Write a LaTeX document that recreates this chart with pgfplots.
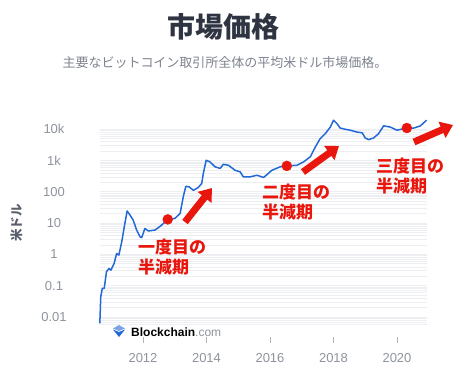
\documentclass[border=0pt]{standalone}
\usepackage{fontspec}
\setmainfont{Liberation Sans}
\newfontfamily\jp{Noto Sans CJK JP}
\usepackage{pgfplots}
\pgfplotsset{compat=1.18}
\usetikzlibrary{arrows.meta}
\definecolor{linecol}{HTML}{2368D7}
\definecolor{redc}{HTML}{E8160C}
\definecolor{titlec}{HTML}{2F3442}
\definecolor{subc}{HTML}{7E838E}
\definecolor{tickc}{HTML}{8E939D}
\definecolor{gridc}{HTML}{ECEEF2}
\definecolor{ylab}{HTML}{5A5F6B}
\begin{document}
\begin{tikzpicture}[x=1pt,y=1pt]
\useasboundingbox (0,0) rectangle (474,-375);
\begin{axis}[
  at={(100pt,-324pt)}, anchor=south west,
  scale only axis, width=327pt, height=199.3pt,
  xmin=2010.646, xmax=2020.945,
  ymode=log, ymin=0.006, ymax=14000,
  axis line style={draw=none},
  ytick={0.01,0.1,1,10,100,1000,10000},
  yticklabels={0.01,0.1,1,10,100,1k,10k},
  minor ytick={0.006,0.007,0.008,0.009,0.02,0.03,0.04,0.05,0.06,0.07,0.08,0.09,0.2,0.3,0.4,0.5,0.6,0.7,0.8,0.9,2,3,4,5,6,7,8,9,20,30,40,50,60,70,80,90,200,300,400,500,600,700,800,900,2000,3000,4000,5000,6000,7000,8000,9000},
  xtick=\empty,
  ymajorgrids, yminorgrids,
  major grid style={draw=gridc, line width=0.8pt},
  minor grid style={draw=gridc, line width=0.8pt},
  ytick style={draw=none},
  minor tick length=0pt,
  tickpos=left,
  tick label style={font=\fontsize{13}{13}\selectfont, text=tickc},
  /pgf/number format/assume math mode=true,
  yticklabel style={anchor=center, xshift=-46pt},
  clip=false,
]
\addplot[color=linecol, line width=1.5pt, line join=round] coordinates {
(2010.64,0.0063) (2010.67,0.0447) (2010.72,0.0832) (2010.78,0.0832)
(2010.85,0.282) (2010.93,0.355) (2010.99,0.316) (2011.09,0.513)
(2011.17,1.07) (2011.24,0.955) (2011.33,2.51) (2011.41,7.59)
(2011.50,24.5) (2011.59,18.2) (2011.69,12.6) (2011.80,6.03)
(2011.91,3.63) (2011.96,3.47) (2012.06,6.76) (2012.17,5.62)
(2012.38,6.03) (2012.59,8.71) (2012.78,13.2) (2013.00,14.1)
(2013.17,20.4) (2013.27,70.8) (2013.35,151) (2013.45,145)
(2013.59,112) (2013.74,138) (2013.85,186) (2013.90,389)
(2013.99,1023) (2014.11,912) (2014.27,631) (2014.43,562)
(2014.53,759) (2014.69,708) (2014.90,490) (2015.06,437)
(2015.16,302) (2015.37,302) (2015.59,339) (2015.80,288)
(2016.06,490) (2016.32,631) (2016.53,676) (2016.85,708)
(2017.06,912) (2017.27,1318) (2017.43,2754) (2017.58,5012)
(2017.74,7244) (2017.90,11749) (2018.00,19498) (2018.11,15136)
(2018.21,10965) (2018.37,10000) (2018.53,9333) (2018.74,8128)
(2018.90,7762) (2019.00,5248) (2019.11,4677) (2019.26,5248)
(2019.42,7244) (2019.58,12882) (2019.79,11749) (2020.00,9333)
(2020.30,10965) (2020.53,10965) (2020.74,12882) (2020.93,19498)
};
\addplot[only marks, mark=*, mark size=5pt, color=redc] coordinates {
(2012.78,13.2) (2016.53,676) (2020.31,10965)
};
\end{axis}
% x ticks axis
\begin{axis}[
  at={(100pt,-343pt)}, anchor=south west,
  scale only axis, width=327pt, height=6pt,
  xmin=2010.646, xmax=2020.945, ymin=0, ymax=1,
  axis line style={draw=none},
  ytick=\empty,
  xtick={2012,2014,2016,2018,2020},
  xticklabels={2012,2014,2016,2018,2020},
  tickpos=left, xtick align=inside, major tick length=6pt,
  xtick style={draw=tickc!70, line width=0.8pt},
  tick label style={font=\fontsize{13}{13}\selectfont, text=tickc},
  xticklabel style={anchor=center, yshift=-15pt},
]
\end{axis}
% arrows
\draw[redc, line width=7pt, -{Triangle[length=12pt, width=17pt]}] (185,-222) -- (212,-188);
\draw[redc, line width=7pt, -{Triangle[length=12pt, width=17pt]}] (303,-172) -- (339,-146);
\draw[redc, line width=7pt, -{Triangle[length=12pt, width=17pt]}] (414,-142) -- (453,-125);
% annotations
\node[anchor=west, align=left, text=redc, inner sep=0pt, font=\jp\bfseries\fontsize{17}{20}\selectfont] at (138,-257) {一度目の\\半減期};
\node[anchor=west, align=left, text=redc, inner sep=0pt, font=\jp\bfseries\fontsize{17}{20}\selectfont] at (262,-202) {二度目の\\半減期};
\node[anchor=west, align=left, text=redc, inner sep=0pt, font=\jp\bfseries\fontsize{17}{20}\selectfont] at (376,-176) {三度目の\\半減期};
% titles
\node[font=\jp\bfseries\fontsize{28}{28}\selectfont, text=titlec] at (223,-27) {市場価格};
\node[font=\jp\fontsize{13}{13}\selectfont, text=subc] at (225,-63) {主要なビットコイン取引所全体の平均米ドル市場価格。};
\node[rotate=90, font=\jp\bfseries\fontsize{12.5}{12.5}\selectfont, text=ylab] at (17,-223) {米ドル};
% logo
\fill[linecol!60] (113,-328.5) -- (119,-325) -- (125,-328.5) -- (119,-331) -- cycle;
\fill[linecol] (113,-329.5) -- (119,-332) -- (125,-329.5) -- (119,-337) -- cycle;
\node[anchor=west, inner sep=0pt] at (131,-332) {\fontsize{12}{12}\selectfont\bfseries Blockchain\textcolor{tickc}{\mdseries .com}};
\end{tikzpicture}
\end{document}
